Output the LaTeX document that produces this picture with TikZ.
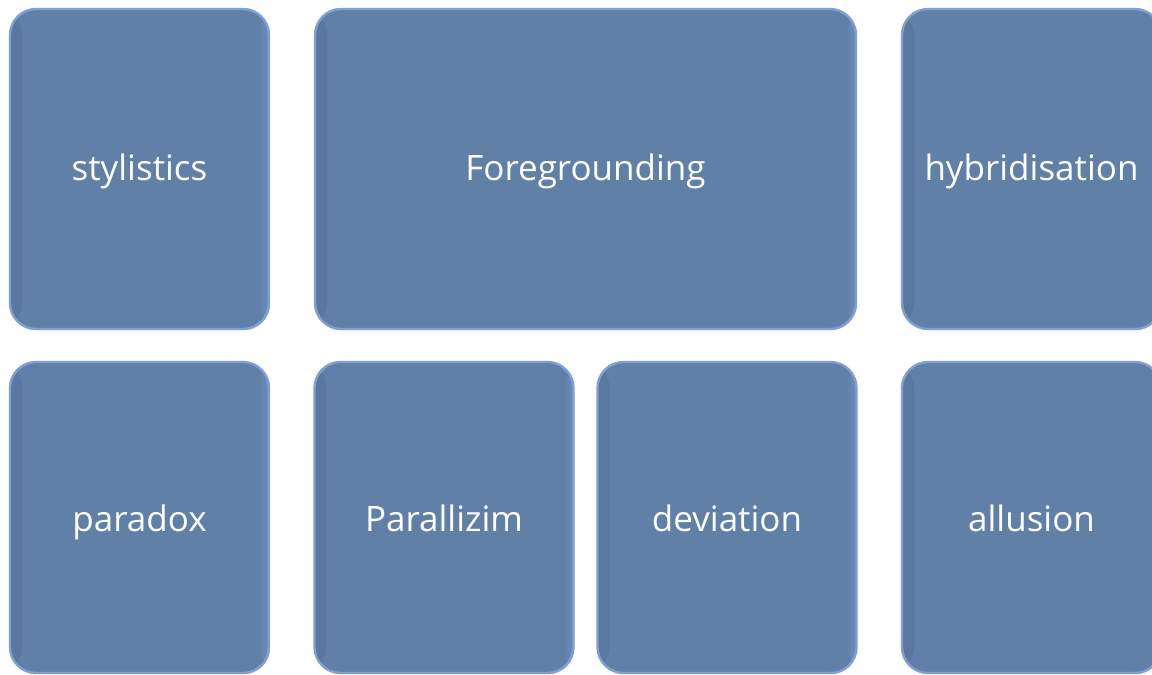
\documentclass[tikz,border=0pt]{standalone}
\usepackage{fontspec}
\setmainfont{Open Sans}
\usepackage{xcolor}
\definecolor{tilefill}{HTML}{6080A8}
\definecolor{tilerim}{HTML}{7EA0D2}
\definecolor{tiledark}{HTML}{5A779F}
\definecolor{tilelight}{HTML}{6E8FBD}
\definecolor{tileshade}{HTML}{8A8F99}
\usetikzlibrary{shadows}

\begin{document}
\begin{tikzpicture}[
    x=0.5pt, y=-0.5pt,
    tile/.style={rectangle, draw=tilerim, line width=1.2pt, rounded corners=13pt, fill=tilefill, text=white, font=\fontsize{17.5}{20}\selectfont, inner sep=0pt, text depth=3.5pt,
      path picture={
        \shade[left color=tiledark, right color=tilefill] (path picture bounding box.south west) rectangle ([xshift=6pt]path picture bounding box.north west);
        \shade[left color=tilefill, right color=tilelight] ([xshift=-5pt]path picture bounding box.south east) rectangle (path picture bounding box.north east);
      },
      drop shadow={shadow xshift=0.4pt, shadow yshift=-0.6pt, fill=tileshade, opacity=0.5}},
    narrow/.style={tile, minimum width=129.5pt},
    wide/.style={tile, minimum width=270.5pt},
    toprow/.style={minimum height=160pt, text height=14.5pt},
    lowrow/.style={minimum height=155.5pt, text height=17.5pt}
  ]
    \clip (0,0) rectangle (1152,675);
    \useasboundingbox (0,0) rectangle (1152,675);

    % Top row
    \node [narrow, toprow] (stylistics) at (139.5,169) {stylistics};
    \node [wide, toprow] (foregrounding) at (585.5,169) {Foregrounding};
    \node [narrow, toprow] (hybrid) at (1031.5,169) {hybridisation};

    % Bottom row
    \node [narrow, lowrow] (paradox) at (139.5,517.5) {paradox};
    \node [narrow, lowrow] (parallel) at (444,517.5) {Parallizim};
    \node [narrow, lowrow] (deviation) at (727,517.5) {deviation};
    \node [narrow, lowrow] (allusion) at (1031.5,517.5) {allusion};
\end{tikzpicture}
\end{document}
